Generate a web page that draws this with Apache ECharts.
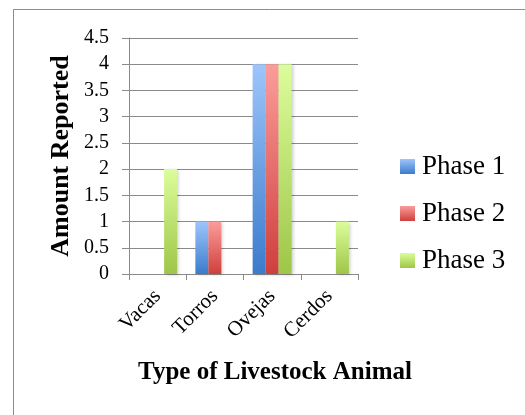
<!DOCTYPE html>
<html>
<head>
<meta charset="utf-8">
<script src="https://cdn.jsdelivr.net/npm/echarts@6/dist/echarts.min.js"></script>
<style>
  html, body { margin: 0; padding: 0; background: #fff; }
  #chart { width: 525px; height: 415px; }
</style>
</head>
<body>
<div id="chart"></div>
<script>
// Livestock counts reported per phase
const categories = ['Vacas', 'Torros', 'Ovejas', 'Cerdos'];
const phase1 = [0, 1, 4, 0];
const phase2 = [0, 1, 4, 0];
const phase3 = [2, 0, 4, 1];
const seriesNames = ['Phase 1', 'Phase 2', 'Phase 3'];

const FONT = '"Liberation Serif", "DejaVu Serif", serif';

// vertical gradient per bar: light top, saturated bottom
function grad(top, bottom) {
  return new echarts.graphic.LinearGradient(0, 0, 0, 1, [
    { offset: 0, color: top },
    { offset: 1, color: bottom }
  ]);
}
const fills = [
  grad('#9ec5fb', '#3b7bcb'),
  grad('#fb9d9b', '#cf3f3c'),
  grad('#dcfd9b', '#9ec647')
];

const chart = echarts.init(document.getElementById('chart'), null, { renderer: 'canvas' });

function barSeries(name, data, i) {
  return {
    name: name,
    type: 'bar',
    data: data,
    barWidth: 13,
    barGap: '0%',
    itemStyle: {
      color: fills[i],
      shadowColor: 'rgba(0,0,0,0.18)',
      shadowBlur: 3,
      shadowOffsetX: 2,
      shadowOffsetY: 1
    },
    emphasis: { disabled: true }
  };
}

chart.setOption({
  animation: false,
  backgroundColor: '#ffffff',
  grid: { left: 129, right: 167, top: 38, bottom: 141, containLabel: false },
  legend: {
    orient: 'vertical',
    left: 400,
    top: 153,
    padding: 0,
    itemWidth: 15,
    itemHeight: 15,
    itemGap: 20,
    icon: 'rect',
    selectedMode: false,
    textStyle: { fontFamily: FONT, fontSize: 27, color: '#000', padding: [0, 0, 0, 2] },
    data: seriesNames
  },
  xAxis: {
    type: 'category',
    data: categories,
    axisLine: { lineStyle: { color: '#8a8a8a', width: 1 } },
    axisTick: { show: true, length: 6, alignWithLabel: false, lineStyle: { color: '#8a8a8a' } },
    axisLabel: {
      rotate: 45,
      margin: 19,
      fontFamily: FONT,
      fontSize: 21,
      color: '#000'
    }
  },
  yAxis: {
    type: 'value',
    min: 0,
    max: 4.5,
    interval: 0.5,
    axisLine: { show: true, lineStyle: { color: '#8a8a8a', width: 1 } },
    axisTick: { show: true, length: 7, lineStyle: { color: '#8a8a8a' } },
    splitLine: { show: true, lineStyle: { color: '#8a8a8a', width: 1 } },
    axisLabel: { margin: 20, fontFamily: FONT, fontSize: 20, color: '#000' }
  },
  graphic: [
    {
      type: 'rect',
      silent: true,
      shape: { x: 13.5, y: 9.5, width: 700, height: 600 },
      style: { fill: 'none', stroke: '#8c8c8c', lineWidth: 1 },
      z: -10
    },
    {
      type: 'text',
      silent: true,
      x: 61,
      y: 156,
      rotation: Math.PI / 2,
      style: {
        text: 'Amount Reported',
        fontFamily: FONT,
        fontWeight: 'bold',
        fontSize: 26,
        fill: '#000',
        align: 'center',
        verticalAlign: 'middle'
      }
    },
    {
      type: 'text',
      silent: true,
      x: 275,
      y: 373,
      style: {
        text: 'Type of Livestock Animal',
        fontFamily: FONT,
        fontWeight: 'bold',
        fontSize: 25,
        fill: '#000',
        align: 'center',
        verticalAlign: 'middle'
      }
    }
  ],
  series: [
    barSeries(seriesNames[0], phase1, 0),
    barSeries(seriesNames[1], phase2, 1),
    barSeries(seriesNames[2], phase3, 2)
  ]
});
</script>
</body>
</html>
